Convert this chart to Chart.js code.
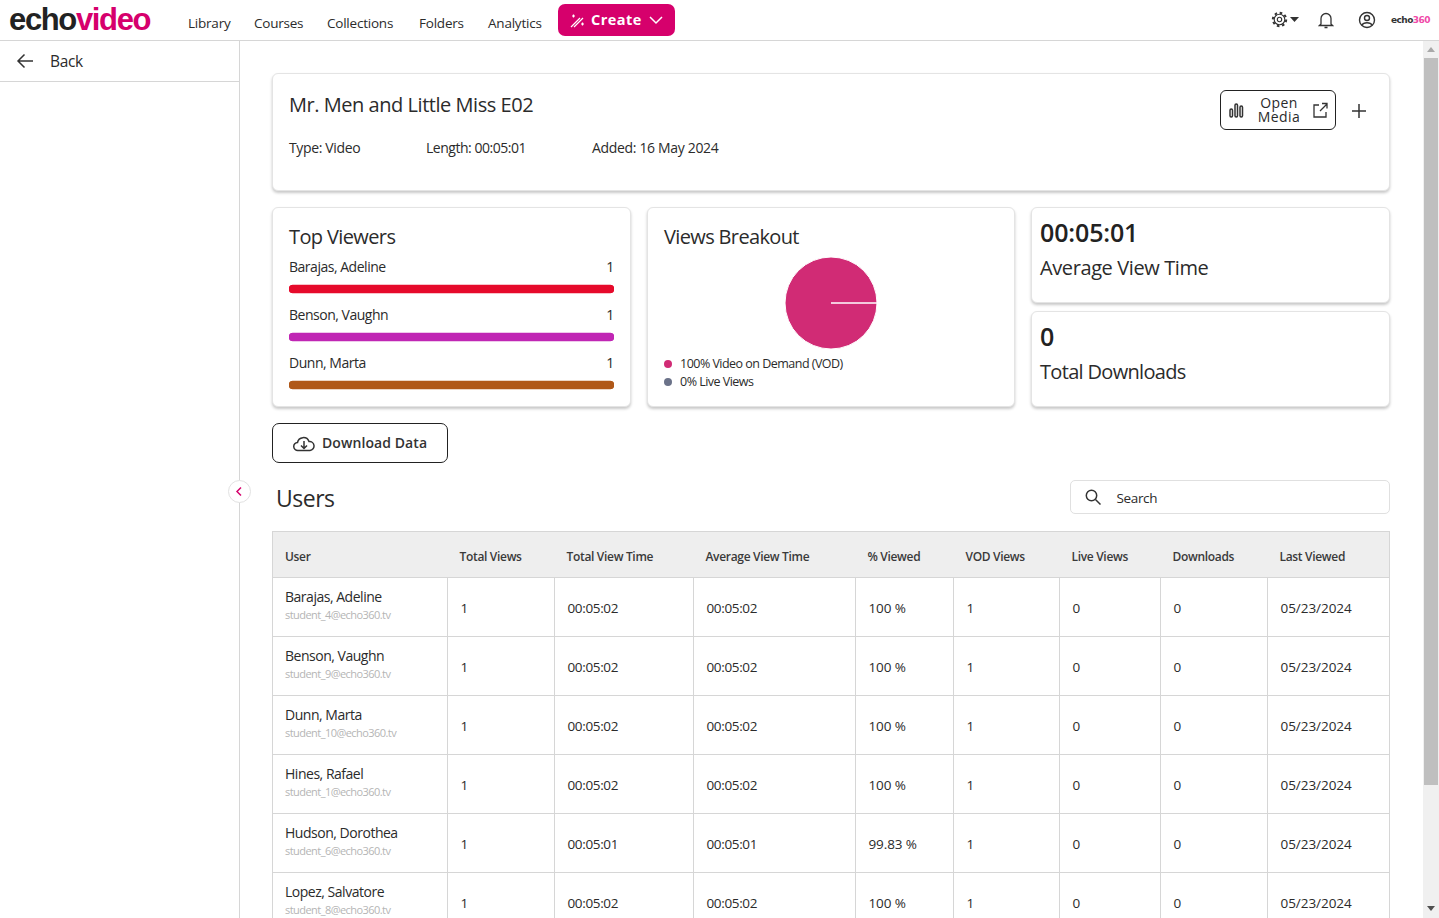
<!DOCTYPE html>
<html>
<head>
<meta charset="utf-8">
<script src="https://cdn.jsdelivr.net/npm/chart.js@4"></script>
<style>
  html, body { margin: 0; height: 100%; overflow: hidden; background: #fff; }
  body { width: 1439px; height: 918px; position: relative; font-family: "Open Sans", sans-serif; color: #2b2b2b; }
  .t { position: absolute; white-space: nowrap; line-height: 20px; margin-top: -10px; }
  .box { position: absolute; box-sizing: border-box; background: #fff; }
  .card { border: 1px solid #e4e4e4; border-radius: 6px; box-shadow: 0 2px 3px rgba(0, 0, 0, .22); }
  .hl { position: absolute; background: #d6d6d6; height: 1px; }
  .vl { position: absolute; background: #d6d6d6; width: 1px; }
  svg { position: absolute; fill: none; stroke: #333; stroke-width: 1.5; }
  canvas { display: block; }
</style>
</head>
<body>
<div id="page"></div>
<div class="box" style="left:781px;top:253px;width:100px;height:100px"><canvas id="pie"></canvas></div>
<div class="box" style="left:289px;top:265px;width:325px;height:144px;background:none"><canvas id="viewers"></canvas></div>
<script>
const navItems = [['Library', 188], ['Courses', 254], ['Collections', 327], ['Folders', 419], ['Analytics', 488]];
const viewerNames = ['Barajas, Adeline', 'Benson, Vaughn', 'Dunn, Marta'];
const viewerCounts = [1, 1, 1];
const viewerColors = ['#e60a2b', '#c026b4', '#b05818'];
const breakoutLabels = ['Video on Demand (VOD)', 'Live Views'];
const breakoutValues = [100, 0];
const breakoutColors = ['#d12b75', '#6b7289'];
const columns = ['User', 'Total Views', 'Total View Time', 'Average View Time', '% Viewed', 'VOD Views', 'Live Views', 'Downloads', 'Last Viewed'];
const columnEdges = [272, 447, 554, 693, 855, 953, 1059, 1160, 1267, 1390];
const userNames = ['Barajas, Adeline', 'Benson, Vaughn', 'Dunn, Marta', 'Hines, Rafael', 'Hudson, Dorothea', 'Lopez, Salvatore'];
const userEmails = ['student_4@echo360.tv', 'student_9@echo360.tv', 'student_10@echo360.tv', 'student_1@echo360.tv', 'student_6@echo360.tv', 'student_8@echo360.tv'];
const totalViews = [1, 1, 1, 1, 1, 1];
const totalViewTime = ['00:05:02', '00:05:02', '00:05:02', '00:05:02', '00:05:01', '00:05:02'];
const avgViewTime = ['00:05:02', '00:05:02', '00:05:02', '00:05:02', '00:05:01', '00:05:02'];
const pctViewed = ['100 %', '100 %', '100 %', '100 %', '99.83 %', '100 %'];
const vodViews = [1, 1, 1, 1, 1, 1];
const liveViews = [0, 0, 0, 0, 0, 0];
const downloads = [0, 0, 0, 0, 0, 0];
const lastViewed = ['05/23/2024', '05/23/2024', '05/23/2024', '05/23/2024', '05/23/2024', '05/23/2024'];

const page = document.getElementById('page');

function add(html) {
  page.insertAdjacentHTML('beforeend', html);
}

function text(x, y, str, size, opts) {
  const o = opts || {};
  const side = o.right ? 'right:' + (1439 - x) : 'left:' + x;
  add('<div class="t" style="' + side + 'px;top:' + y + 'px;font-size:' + size + 'px;font-weight:' + (o.weight || 400) +
    ';color:' + (o.color || '#2b2b2b') + ';letter-spacing:' + (o.ls === undefined ? -0.35 : o.ls) + 'px;' + (o.extra || '') + '">' + str + '</div>');
}

function box(x, y, w, h, cls, style) {
  add('<div class="box ' + (cls || '') + '" style="left:' + x + 'px;top:' + y + 'px;width:' + w + 'px;height:' + h + 'px;' + (style || '') + '"></div>');
}

function icon(x, y, w, h, inner, extra) {
  add('<svg style="left:' + x + 'px;top:' + y + 'px;' + (extra || '') + '" width="' + w + '" height="' + h + '" viewBox="0 0 ' + w + ' ' + h + '">' + inner + '</svg>');
}

// top bar
add('<div class="hl" style="left:0;top:40px;width:1439px"></div>');
add('<div class="vl" style="left:239px;top:41px;height:877px"></div>');
add('<div class="hl" style="left:0;top:81px;width:239px"></div>');
text(9, 20, 'echo<span style="color:#d6006c">video</span>', 31, { weight: 700, ls: -1.35, color: '#222', extra: 'font-family:Liberation Sans;' });
navItems.forEach(n => text(n[1], 23, n[0], 13.5, { ls: -0.22 }));
box(558, 4, 117, 32, '', 'background:#d6006c;border-radius:7px');
text(591, 20, 'Create', 14.5, { weight: 700, color: '#fff', ls: 0.45 });
icon(569, 13, 16, 16, '<path d="M2 14 L11 5 M5 14 L14 5"/><path d="M3 3h3M4.500 1.500v3M12 11h3M13.500 9.500v3"/>', 'stroke:#fff;stroke-width:1.2');
icon(649, 15, 14, 10, '<path d="M1 2 L7 8 L13 2"/>', 'stroke:#fff');
// right icons
icon(1271, 11, 17, 17, '<circle cx="8.500" cy="8.500" r="5.300"/><circle cx="8.500" cy="8.500" r="2.200"/><circle cx="8.500" cy="8.500" r="6.700" stroke-width="2" stroke-dasharray="2.600 2.660"/>', 'stroke-width:1.1');
icon(1290, 17, 10, 6, '<path d="M0 0h9L4.500 5z" fill="#333" stroke="none"/>');
icon(1318, 11, 16, 18, '<path d="M3 13V7.500a5 5 0 0 1 10 0V13l1.500 1.500h-13zM6.500 16.500h3"/>', 'stroke-width:1.3');
icon(1358, 11, 18, 18, '<circle cx="9" cy="9" r="7.500"/><circle cx="9" cy="7" r="2.500"/><path d="M4 14c1.500-3 8.500-3 10 0"/>', 'stroke-width:1.4');
text(1391, 20, 'echo<span style="color:#f04aa8">360</span>', 9, { weight: 700, ls: -0.55, color: '#333', extra: 'font-family:DejaVu Sans;' });
// sidebar
icon(16, 53, 18, 16, '<path d="M17 8H2M8.500 1.500 2 8l6.500 6.500"/>');
text(50, 61, 'Back', 15.5);
box(228, 480, 23, 23, '', 'border:1px solid #e2e2e2;border-radius:50%');
icon(235, 486, 8, 11, '<path d="M6 1.500 2 5.500l4 4"/>', 'stroke:#d6006c');
// scrollbar
box(1423, 41, 16, 877, '', 'background:#f0f0f0');
box(1424, 58, 14, 727, '', 'background:#bfbfbf');
icon(1427, 47, 9, 6, '<path d="M0 5h8L4 0z" fill="#a8a8a8" stroke="none"/>');
icon(1427, 906, 9, 6, '<path d="M0 0h8L4 5z" fill="#505050" stroke="none"/>');

// media card
box(272, 73, 1118, 118, 'card');
text(289, 105, 'Mr. Men and Little Miss E02', 20, { ls: -0.46 });
text(289, 148, 'Type: Video', 14);
text(426, 148, 'Length: 00:05:01', 14, { ls: -0.48 });
text(592, 148, 'Added: 16 May 2024', 14, { ls: -0.33 });
box(1220, 90, 116, 40, '', 'border:1px solid #222;border-radius:6px');
text(1279, 110, 'Open<br>Media', 14, { weight: 500, ls: 0.45, extra: 'transform:translateX(-50%);text-align:center;line-height:13.500px;margin-top:-14px;' });
icon(1229, 103, 15, 15, '<rect x="1" y="6" width="2.500" height="8" rx="1.200"/><rect x="6" y="1" width="2.500" height="13" rx="1.200"/><rect x="11" y="3" width="2.500" height="11" rx="1.200"/>', 'stroke-width:1.5');
icon(1312, 102, 16, 16, '<path d="M7 3H2v12h12v-5M8 9l7-7M10 1.500h5v5"/>', 'stroke-width:1.3');
icon(1352, 104, 14, 14, '<path d="M7 0v14M0 7h14"/>');

// summary cards
box(272, 207, 359, 200, 'card');
box(647, 207, 368, 200, 'card');
box(1031, 207, 359, 96, 'card');
box(1031, 311, 359, 96, 'card');
text(289, 237, 'Top Viewers', 20, { ls: -0.62 });
viewerNames.forEach((name, i) => {
  text(289, 267 + i * 48, name, 14, { ls: -0.48 });
  text(614, 267 + i * 48, viewerCounts[i], 14, { right: true });
});
text(664, 237, 'Views Breakout', 20, { ls: -0.64 });
breakoutLabels.forEach((label, i) => {
  box(664, 360 + i * 18, 8, 8, '', 'border-radius:50%;background:' + breakoutColors[i]);
  text(680, 364 + i * 18, breakoutValues[i] + '% ' + label, 12.5, { ls: -0.52 });
});
text(1040, 232, '00:05:01', 25, { weight: 600, color: '#222', ls: -0.15 });
text(1040, 268, 'Average View Time', 20, { ls: -0.4 });
text(1040, 336, '0', 25, { weight: 600, color: '#222', ls: 0 });
text(1040, 372, 'Total Downloads', 20, { ls: -0.68 });

// download + search
box(272, 423, 176, 40, '', 'border:1px solid #222;border-radius:7px');
icon(293, 436, 22, 16, '<path d="M6 14.500H5a4 4 0 0 1-.5-8 6 6 0 0 1 11.500-1 4.500 4.500 0 0 1 1 9h-11z"/><path d="M11 5v7M8 9.500l3 3 3-3"/>');
text(322, 443, 'Download Data', 14, { weight: 600, ls: 0.08, color: '#333' });
text(276, 498, 'Users', 23, { ls: -0.5 });
box(1070, 480, 320, 34, '', 'border:1px solid #e0e0e0;border-radius:5px');
icon(1085, 489, 16, 16, '<circle cx="6.500" cy="6.500" r="5.200"/><path d="M10.500 10.500l5 5"/>');
text(1116.5, 498, 'Search', 13.5);

// table
const rowTop = 577, rowH = 59, tableBottom = 918;
box(272, 531, 1118, 46, '', 'background:#eeeeee');
add('<div class="hl" style="left:272px;top:531px;width:1118px"></div>');
columns.forEach((c, i) => text(columnEdges[i] + (i === 0 ? 13 : 12.5), 557, c, 12, { weight: 600, ls: -0.32, color: '#3a3a3a' }));
const cellLs = [-0.35, -0.35, -0.35, -0.1, -0.35, -0.35, -0.35, -0.05];
userNames.forEach((name, r) => {
  const top = rowTop + r * rowH;
  const mid = top + 31;
  add('<div class="hl" style="left:272px;top:' + top + 'px;width:1118px"></div>');
  text(285, top + 20, name, 14, { ls: -0.48 });
  text(285, top + 38, userEmails[r], 11, { color: '#b5b5b5', ls: -0.55 });
  [totalViews, totalViewTime, avgViewTime, pctViewed, vodViews, liveViews, downloads, lastViewed].forEach((col, c) => {
    text(columnEdges[c + 1] + 13.5, mid, col[r], 13.5, { ls: cellLs[c] });
  });
});
columnEdges.forEach((x, i) => {
  const top = (i === 0 || i === columnEdges.length - 1) ? 531 : rowTop;
  add('<div class="vl" style="left:' + (i === columnEdges.length - 1 ? x - 1 : x) + 'px;top:' + top + 'px;height:' + (tableBottom - top) + 'px"></div>');
});

Chart.defaults.animation = false;

new Chart(document.getElementById('pie'), {
  type: 'pie',
  data: {
    labels: breakoutLabels,
    datasets: [{
      data: breakoutValues,
      backgroundColor: breakoutColors,
      borderColor: '#fff',
      borderWidth: 1
    }]
  },
  options: {
    responsive: true,
    maintainAspectRatio: false,
    rotation: 90,
    radius: 46,
    plugins: { legend: { display: false }, tooltip: { enabled: false } }
  }
});

new Chart(document.getElementById('viewers'), {
  type: 'bar',
  data: {
    labels: viewerNames,
    datasets: [{
      data: viewerCounts,
      backgroundColor: viewerColors,
      barThickness: 8,
      borderRadius: 4,
      borderSkipped: false
    }]
  },
  options: {
    indexAxis: 'y',
    responsive: true,
    maintainAspectRatio: false,
    scales: {
      x: { display: false, min: 0, max: 1 },
      y: { display: false }
    },
    plugins: { legend: { display: false }, tooltip: { enabled: false } }
  }
});
</script>
</body>
</html>
